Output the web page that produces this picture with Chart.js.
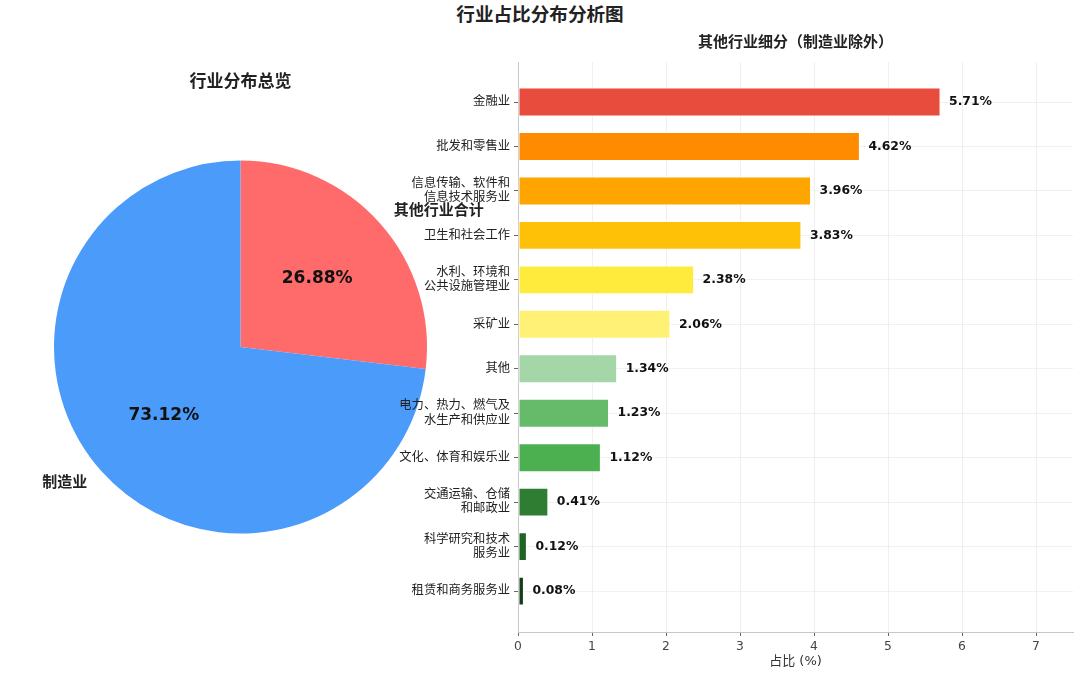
<!DOCTYPE html>
<html lang="zh">
<head>
<meta charset="utf-8">
<title>行业占比分布分析图</title>
<script src="https://cdn.jsdelivr.net/npm/chart.js@4"></script>
<style>
  html, body { margin: 0; padding: 0; background: #fff; }
  body { width: 1080px; height: 675px; position: relative; overflow: hidden; }
  #main-title {
    position: absolute; left: 0; top: 4px; width: 1080px; text-align: center;
    font: bold 18.6px 'DejaVu Sans', 'Noto Sans CJK SC', sans-serif; line-height: 22px; color: #222;
  }
  #pie-wrap { position: absolute; left: 0; top: 60px; width: 500px; height: 615px; z-index: 1; }
  #bar-wrap { position: absolute; left: 380px; top: 30px; width: 700px; height: 645px; z-index: 2; }
</style>
</head>
<body>
<div id="main-title">行业占比分布分析图</div>
<div id="pie-wrap"><canvas id="pie-chart"></canvas></div>
<div id="bar-wrap"><canvas id="bar-chart"></canvas></div>
<script>
// 饼图：制造业 vs 其他行业
const pieLabels = ['其他行业合计', '制造业'];
const pieValues = [26.88, 73.12];
const pieColors = ['#FF6B6B', '#4A9BFA'];

// 条形图：其他行业细分
const barLabels = [
    ['金融业'],
    ['批发和零售业'],
    ['信息传输、软件和', '信息技术服务业'],
    ['卫生和社会工作'],
    ['水利、环境和', '公共设施管理业'],
    ['采矿业'],
    ['其他'],
    ['电力、热力、燃气及', '水生产和供应业'],
    ['文化、体育和娱乐业'],
    ['交通运输、仓储', '和邮政业'],
    ['科学研究和技术', '服务业'],
    ['租赁和商务服务业'],
];
const barValues = [5.71, 4.62, 3.96, 3.83, 2.38, 2.06, 1.34, 1.23, 1.12, 0.41, 0.12, 0.08];
const barColors = ['#E74C3C', '#FF8C00', '#FFA500', '#FFC107', '#FFEB3B', '#FFF176',
                   '#A5D6A7', '#66BB6A', '#4CAF50', '#2E7D32', '#1F6424', '#133F18'];
const xTicks = [0, 1, 2, 3, 4, 5, 6, 7];

const FONT = "'DejaVu Sans', 'Noto Sans CJK SC', sans-serif";

// 条形末端数值标签
const barValueLabels = {
    id: 'barValueLabels',
    afterDatasetsDraw(chart) {
        const ctx = chart.ctx;
        const meta = chart.getDatasetMeta(0);
        ctx.save();
        ctx.font = `bold 12.4px ${FONT}`;
        ctx.fillStyle = '#111';
        ctx.textAlign = 'left';
        ctx.textBaseline = 'middle';
        meta.data.forEach((bar, i) => {
            ctx.fillText(barValues[i].toFixed(2) + '%', bar.x + 8.5, bar.y);
        });
        ctx.restore();
    }
};

// 饼图外部名称 + 内部百分比
const pieTexts = {
    id: 'pieTexts',
    afterDatasetsDraw(chart) {
        const ctx = chart.ctx;
        const meta = chart.getDatasetMeta(0);
        ctx.save();
        ctx.textBaseline = 'middle';
        meta.data.forEach((arc, i) => {
            const mid = (arc.startAngle + arc.endAngle) / 2;
            const r = arc.outerRadius;
            // 百分比
            ctx.font = `bold 17px ${FONT}`;
            ctx.fillStyle = '#111';
            ctx.textAlign = 'center';
            ctx.fillText(pieValues[i].toFixed(2) + '%', arc.x + Math.cos(mid) * r * 0.55, arc.y + Math.sin(mid) * r * 0.55);
            // 名称
            const lx = arc.x + Math.cos(mid) * r * 1.1;
            const ly = arc.y + Math.sin(mid) * r * 1.1;
            ctx.font = `bold 15px ${FONT}`;
            ctx.fillStyle = '#222';
            ctx.textAlign = lx >= arc.x ? 'left' : 'right';
            ctx.fillText(pieLabels[i], lx, ly);
        });
        ctx.restore();
    }
};

new Chart(document.getElementById('pie-chart'), {
    type: 'pie',
    data: {
        labels: pieLabels,
        datasets: [{
            data: pieValues,
            backgroundColor: pieColors,
            borderWidth: 0,
        }]
    },
    options: {
        responsive: true,
        maintainAspectRatio: false,
        animation: false,
        layout: { padding: { left: 0, right: 19, bottom: 141.5 } },
        plugins: {
            legend: { display: false },
            tooltip: { enabled: false },
            title: {
                display: true,
                text: '行业分布总览',
                color: '#222',
                font: { family: FONT, size: 17, weight: 'bold' },
                padding: { top: 12.8, bottom: 67.3 },
            },
        },
    },
    plugins: [pieTexts],
});

new Chart(document.getElementById('bar-chart'), {
    type: 'bar',
    data: {
        datasets: [{
            data: barValues.map((v, i) => ({ x: v, y: i })),
            backgroundColor: barColors,
            borderColor: 'rgba(255,255,255,0.8)',
            borderWidth: 1,
            borderSkipped: false,
            categoryPercentage: 1,
            barPercentage: 0.65,
        }]
    },
    options: {
        indexAxis: 'y',
        responsive: true,
        maintainAspectRatio: false,
        animation: false,
        layout: { padding: { left: 0, right: 7, top: 0, bottom: 0 } },
        plugins: {
            legend: { display: false },
            tooltip: { enabled: false },
            title: {
                display: true,
                fullSize: false,
                text: '其他行业细分（制造业除外）',
                color: '#222',
                font: { family: FONT, size: 15, weight: 'bold' },
                padding: { top: 4, bottom: 10 },
            },
        },
        scales: {
            x: {
                type: 'linear',
                min: 0,
                max: 7.5,
                z: 1,
                offset: false,
                afterFit: s => { s.height = 43; },
                afterBuildTicks: s => { s.ticks = xTicks.map(v => ({ value: v })); },
                grid: { color: 'rgba(215,215,215,0.4)', tickColor: '#666', tickLength: 4, offset: false },
                border: { display: true, color: '#c8c8c8' },
                ticks: { color: '#444', font: { family: FONT, size: 12.3 }, padding: 3 },
                title: {
                    display: true,
                    text: '占比 (%)',
                    color: '#333',
                    font: { family: FONT, size: 13 },
                    padding: { top: 2, bottom: 6 },
                },
            },
            y: {
                type: 'linear',
                reverse: true,
                min: -0.9,
                max: 11.92,
                z: 1,
                offset: false,
                afterFit: s => { s.width = 138; },
                afterBuildTicks: s => { s.ticks = barLabels.map((_, i) => ({ value: i })); },
                grid: { color: 'rgba(215,215,215,0.35)', tickColor: '#666', tickLength: 4, offset: false },
                border: { display: true, color: '#c8c8c8' },
                ticks: {
                    color: '#222',
                    font: { family: FONT, size: 12.3, lineHeight: 1.15 },
                    padding: 4,
                    autoSkip: false,
                    callback: v => barLabels[v] || '',
                },
            },
        },
    },
    plugins: [barValueLabels],
});
</script>
</body>
</html>
